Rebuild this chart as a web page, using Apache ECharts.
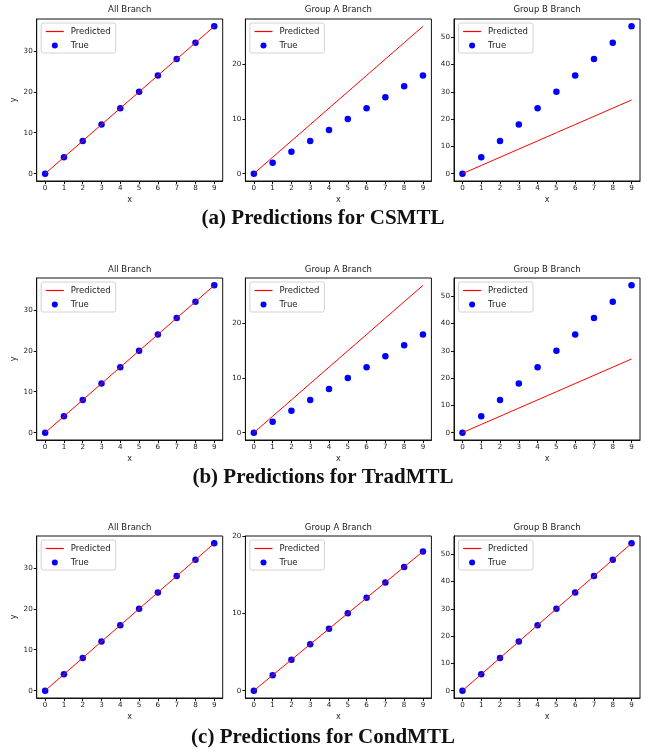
<!DOCTYPE html>
<html><head><meta charset="utf-8">
<script src="https://cdn.jsdelivr.net/npm/echarts@6/dist/echarts.min.js"></script>
<style>html,body{margin:0;padding:0;background:#fff}#c{width:646px;height:753px}</style>
</head><body><div id="c"></div>
<script>
// ---- data ----
const xValues = [0, 1, 2, 3, 4, 5, 6, 7, 8, 9];
const trueAll = [0, 4, 8, 12, 16, 20, 24, 28, 32, 36];
const trueA   = [0, 2, 4, 6, 8, 10, 12, 14, 16, 18];
const trueB   = [0, 6, 12, 18, 24, 30, 36, 42, 48, 54];
const predCSMTL_All = [0, 4, 8, 12, 16, 20, 24, 28, 32, 36];
const predCSMTL_A   = [0, 3, 6, 9, 12, 15, 18, 21, 24, 27];
const predCSMTL_B   = [0, 3, 6, 9, 12, 15, 18, 21, 24, 27];
const predTrad_All  = [0, 4, 8, 12, 16, 20, 24, 28, 32, 36];
const predTrad_A    = [0, 3, 6, 9, 12, 15, 18, 21, 24, 27];
const predTrad_B    = [0, 3, 6, 9, 12, 15, 18, 21, 24, 27];
const predCond_All  = [0, 4, 8, 12, 16, 20, 24, 28, 32, 36];
const predCond_A    = [0, 2, 4, 6, 8, 10, 12, 14, 16, 18];
const predCond_B    = [0, 6, 12, 18, 24, 30, 36, 42, 48, 54];
const panelTitles = ['All Branch', 'Group A Branch', 'Group B Branch'];
const captions = ['(a) Predictions for CSMTL', '(b) Predictions for TradMTL', '(c) Predictions for CondMTL'];
const yTicksAll = [0, 10, 20, 30];
const yTicksA27 = [0, 10, 20];
const yTicksB = [0, 10, 20, 30, 40, 50];
const yTicksA20 = [0, 10, 20];

const rows = [
  { pred: [predCSMTL_All, predCSMTL_A, predCSMTL_B],
    ylim: [[-1.8, 37.8], [-1.35, 28.35], [-2.7, 56.7]],
    yticks: [yTicksAll, yTicksA27, yTicksB] },
  { pred: [predTrad_All, predTrad_A, predTrad_B],
    ylim: [[-1.8, 37.8], [-1.35, 28.35], [-2.7, 56.7]],
    yticks: [yTicksAll, yTicksA27, yTicksB] },
  { pred: [predCond_All, predCond_A, predCond_B],
    ylim: [[-1.8, 37.8], [-0.95, 20], [-2.7, 56.7]],
    yticks: [yTicksAll, yTicksA20, yTicksB] }
];
const trues = [trueAll, trueA, trueB];

// ---- layout ----
const colLeft = [36.7, 245.4, 454];
const panelW = 186;
const rowTop = [19, 278, 536];
const panelH = 162;
const titleY = [10, 270, 528];
const captionY = [219, 478, 738];

const grids = [], xAxes = [], yAxes = [], series = [], legends = [], graphics = [];
const tickFont = 'DejaVu Sans';

rows.forEach((row, r) => {
  for (let c = 0; c < 3; c++) {
    const idx = r * 3 + c;
    grids.push({ left: colLeft[c], top: rowTop[r], width: panelW, height: panelH,
      show: true, borderColor: '#111', borderWidth: 1, backgroundColor: 'transparent' });
    xAxes.push({ gridIndex: idx, type: 'value', min: -0.45, max: 9.45,
      axisLine: { show: true, onZero: false, lineStyle: { color: '#111', width: 1 } },
      splitLine: { show: false },
      axisTick: { show: true, length: 3, lineStyle: { color: '#111' }, customValues: xValues },
      axisLabel: { customValues: xValues, fontSize: 7.2, color: '#222', margin: 4, fontFamily: tickFont },
      name: 'x', nameLocation: 'middle', nameGap: 15,
      nameTextStyle: { fontSize: 8, color: '#222', fontFamily: tickFont } });
    const yAx = { gridIndex: idx, type: 'value', min: row.ylim[c][0], max: row.ylim[c][1],
      axisLine: { show: true, onZero: false, lineStyle: { color: '#111', width: 1 } },
      splitLine: { show: false },
      axisTick: { show: true, length: 3, lineStyle: { color: '#111' }, customValues: row.yticks[c] },
      axisLabel: { customValues: row.yticks[c], fontSize: 7.2, color: '#222', margin: 4, fontFamily: tickFont } };
    if (c === 0) {
      yAx.name = 'y'; yAx.nameLocation = 'middle'; yAx.nameGap = 19; yAx.nameRotate = 90;
      yAx.nameTextStyle = { fontSize: 8, color: '#222', fontFamily: tickFont };
    }
    yAxes.push(yAx);
    series.push({ name: 'Predicted', type: 'line', xAxisIndex: idx, yAxisIndex: idx,
      data: xValues.map((x, i) => [x, row.pred[c][i]]), symbol: 'none',
      lineStyle: { color: '#ff0000', width: 1 }, itemStyle: { color: '#ff0000' }, z: 3, animation: false });
    series.push({ name: 'True', type: 'scatter', xAxisIndex: idx, yAxisIndex: idx,
      data: xValues.map((x, i) => [x, trues[c][i]]), symbolSize: 6.5,
      itemStyle: { color: '#0000ff', opacity: 1 }, z: 2, animation: false });
    legends.push({ orient: 'vertical', left: colLeft[c] + 4.5, top: rowTop[r] + 4,
      data: [
        { name: 'Predicted', itemStyle: { opacity: 0 }, lineStyle: { color: '#ff0000', width: 1.2, opacity: 1 } },
        { name: 'True', icon: 'circle', itemStyle: { color: '#0000ff', opacity: 1 } }
      ], selectedMode: false,
      itemWidth: 18, itemHeight: 6, itemGap: 5, padding: [4, 5, 3, 4],
      borderColor: '#d3d3d3', borderWidth: 1, borderRadius: 2,
      backgroundColor: 'rgba(255,255,255,0.8)',
      textStyle: { fontSize: 8.5, color: '#222', fontFamily: tickFont, padding: [0, 0, 0, 2] } });
    graphics.push({ type: 'text', x: colLeft[c] + panelW / 2, y: titleY[r],
      style: { text: panelTitles[c], fill: '#222', font: '8.5px "DejaVu Sans"', align: 'center', verticalAlign: 'middle' } });
  }
  graphics.push({ type: 'text', x: 323, y: captionY[r],
    style: { text: captions[r], fill: '#111', font: 'bold 21px "Liberation Serif"', align: 'center', verticalAlign: 'middle' } });
});

const chart = echarts.init(document.getElementById('c'), null, { renderer: 'canvas' });
chart.setOption({
  animation: false,
  backgroundColor: '#fff',
  grid: grids, xAxis: xAxes, yAxis: yAxes, series: series, legend: legends,
  graphic: { elements: graphics }
});
</script></body></html>
